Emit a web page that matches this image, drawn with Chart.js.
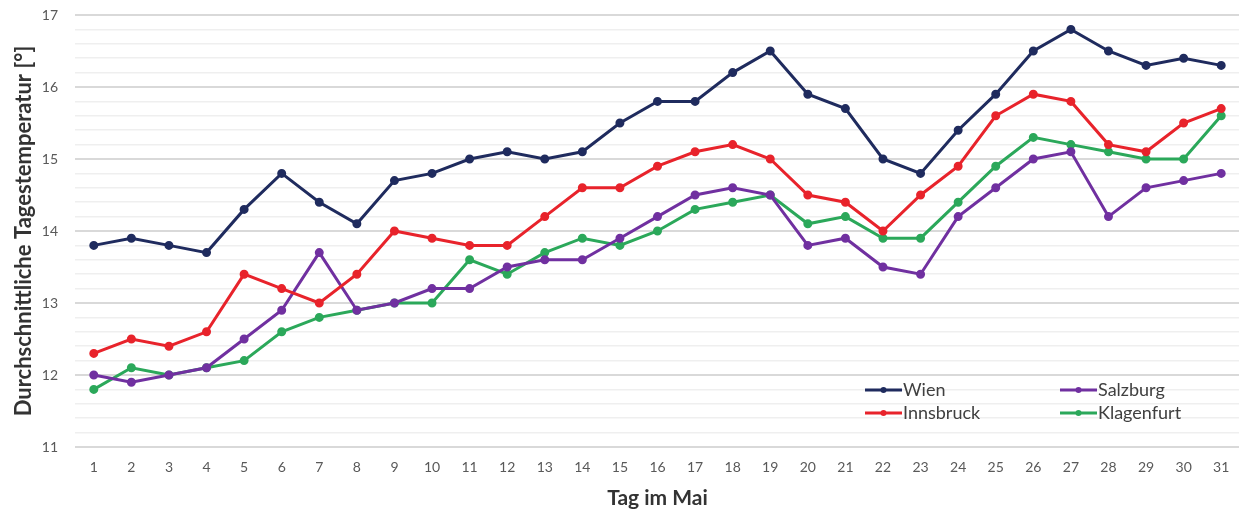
<!DOCTYPE html>
<html>
<head>
<meta charset="utf-8">
<script src="https://cdn.jsdelivr.net/npm/chart.js@4"></script>
<style>
html,body{margin:0;padding:0;background:#fff;overflow:hidden;}
#wrap{width:1246px;height:511px;position:relative;}
</style>
</head>
<body>
<div id="wrap"><canvas id="c"></canvas></div>
<script>
const days = ["1","2","3","4","5","6","7","8","9","10","11","12","13","14","15","16","17","18","19","20","21","22","23","24","25","26","27","28","29","30","31"];
const wien = [13.8,13.9,13.8,13.7,14.3,14.8,14.4,14.1,14.7,14.8,15.0,15.1,15.0,15.1,15.5,15.8,15.8,16.2,16.5,15.9,15.7,15.0,14.8,15.4,15.9,16.5,16.8,16.5,16.3,16.4,16.3];
const innsbruck = [12.3,12.5,12.4,12.6,13.4,13.2,13.0,13.4,14.0,13.9,13.8,13.8,14.2,14.6,14.6,14.9,15.1,15.2,15.0,14.5,14.4,14.0,14.5,14.9,15.6,15.9,15.8,15.2,15.1,15.5,15.7];
const salzburg = [12.0,11.9,12.0,12.1,12.5,12.9,13.7,12.9,13.0,13.2,13.2,13.5,13.6,13.6,13.9,14.2,14.5,14.6,14.5,13.8,13.9,13.5,13.4,14.2,14.6,15.0,15.1,14.2,14.6,14.7,14.8];
const klagenfurt = [11.8,12.1,12.0,12.1,12.2,12.6,12.8,12.9,13.0,13.0,13.6,13.4,13.7,13.9,13.8,14.0,14.3,14.4,14.5,14.1,14.2,13.9,13.9,14.4,14.9,15.3,15.2,15.1,15.0,15.0,15.6];
const seriesNames = ["Wien","Innsbruck","Salzburg","Klagenfurt"];
const colors = ["#1f2b5e","#e8232b","#7030a0","#2ba85a"];
const yMin = 11, yMax = 17, yStep = 0.2;

const FONT = "Lato, 'Open Sans', sans-serif";
const isInt = v => Math.abs(v - Math.round(v)) < 1e-6;

function ds(label, data, color){
  return {label, data, borderColor: color, backgroundColor: color, borderWidth: 3,
    pointRadius: 3, pointHoverRadius: 3, pointBackgroundColor: color, pointBorderColor: color,
    tension: 0, fill: false};
}

const legendPlugin = {
  id: 'insideLegend',
  afterDraw(chart){
    const ctx = chart.ctx;
    const pos = [[865,390],[865,413],[1060,390],[1060,413]];
    chart.data.datasets.forEach((d,i)=>{
      const [x,y] = pos[i];
      ctx.save();
      ctx.strokeStyle = d.borderColor; ctx.lineWidth = 3;
      ctx.beginPath(); ctx.moveTo(x,y); ctx.lineTo(x+37,y); ctx.stroke();
      ctx.fillStyle = d.borderColor;
      ctx.beginPath(); ctx.arc(x+18.5,y,3,0,Math.PI*2); ctx.fill();
      ctx.fillStyle = '#404040';
      ctx.font = "18px " + FONT;
      ctx.textBaseline = 'middle'; ctx.textAlign = 'left';
      ctx.fillText(d.label, x+38, y);
      ctx.restore();
    });
  }
};

new Chart(document.getElementById('c'), {
  type: 'line',
  data: {
    labels: days,
    datasets: [
      ds(seriesNames[0], wien, colors[0]),
      ds(seriesNames[1], innsbruck, colors[1]),
      ds(seriesNames[2], salzburg, colors[2]),
      ds(seriesNames[3], klagenfurt, colors[3])
    ]
  },
  options: {
    responsive: true,
    maintainAspectRatio: false,
    animation: false,
    layout: {padding: {top: 15, right: 4, left: 0, bottom: 0}},
    plugins: {legend: {display: false}, tooltip: {enabled: false}},
    scales: {
      x: {
        offset: true,
        grid: {display: false, drawTicks: false},
        border: {display: false},
        ticks: {color: '#595959', font: {family: FONT, size: 14}, padding: 12, maxRotation: 0, autoSkip: false},
        title: {display: true, text: 'Tag im Mai', color: '#333', font: {family: FONT, size: 21, weight: 'bold'}, padding: {top: 8, bottom: 0}},
        afterFit(s){ s.height = 64; }
      },
      y: {
        min: yMin, max: yMax,
        grid: {drawTicks: false,
          color: c => isInt(c.tick.value) ? '#d9d9d9' : '#efefef',
          lineWidth: c => isInt(c.tick.value) ? 2 : 1.5},
        border: {display: false},
        ticks: {stepSize: yStep, color: '#595959', font: {family: FONT, size: 14}, padding: 17, autoSkip: false,
          callback: v => isInt(v) ? String(Math.round(v)) : ''},
        title: {display: true, text: 'Durchschnittliche Tagestemperatur [°]', color: '#333', font: {family: FONT, size: 22, weight: 'bold'}, padding: {top: 11, bottom: 0}},
        afterFit(s){ s.width = 75; s.paddingTop = 0; s.paddingBottom = 0; }
      }
    }
  },
  plugins: [legendPlugin]
});
</script>
</body>
</html>
